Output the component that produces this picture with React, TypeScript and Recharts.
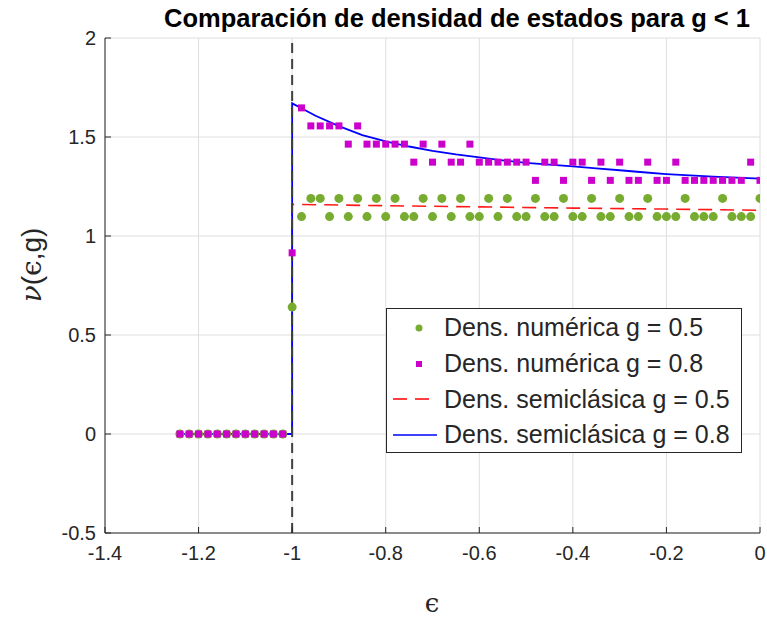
import React from 'react';
import { ComposedChart, Line, Scatter, XAxis, YAxis, CartesianGrid, ReferenceLine } from 'recharts';

// energy grid of the numerical histograms
const epsNum = [
  -1.24, -1.22, -1.2, -1.18, -1.16, -1.14, -1.12, -1.1, -1.08, -1.06, -1.04, -1.02,
  -1.0,
  -0.98, -0.96, -0.94, -0.92, -0.9, -0.88, -0.86, -0.84, -0.82, -0.8,
  -0.78, -0.76, -0.74, -0.72, -0.7, -0.68, -0.66, -0.64, -0.62, -0.6,
  -0.58, -0.56, -0.54, -0.52, -0.5, -0.48, -0.46, -0.44, -0.42, -0.4,
  -0.38, -0.36, -0.34, -0.32, -0.3, -0.28, -0.26, -0.24, -0.22, -0.2,
  -0.18, -0.16, -0.14, -0.12, -0.1, -0.08, -0.06, -0.04, -0.02, 0,
];

// Dens. numérica g = 0.5
const densG05 = [
  0, 0, 0, 0, 0, 0, 0, 0, 0, 0, 0, 0,
  0.641,
  1.098, 1.19, 1.19, 1.098, 1.19, 1.098, 1.19, 1.098, 1.19, 1.098,
  1.19, 1.098, 1.098, 1.19, 1.098, 1.19, 1.098, 1.19, 1.098, 1.098,
  1.19, 1.098, 1.19, 1.098, 1.098, 1.19, 1.098, 1.098, 1.19, 1.098,
  1.098, 1.19, 1.098, 1.098, 1.19, 1.098, 1.098, 1.19, 1.098, 1.098,
  1.098, 1.19, 1.098, 1.098, 1.098, 1.19, 1.098, 1.098, 1.098, 1.19,
];

// Dens. numérica g = 0.8
const densG08 = [
  0, 0, 0, 0, 0, 0, 0, 0, 0, 0, 0, 0,
  0.915,
  1.647, 1.556, 1.556, 1.556, 1.556, 1.464, 1.556, 1.464, 1.464, 1.464,
  1.464, 1.464, 1.373, 1.464, 1.373, 1.464, 1.373, 1.373, 1.464, 1.373,
  1.373, 1.373, 1.373, 1.373, 1.373, 1.281, 1.373, 1.373, 1.281, 1.373,
  1.373, 1.281, 1.373, 1.281, 1.373, 1.281, 1.281, 1.373, 1.281, 1.281,
  1.373, 1.281, 1.281, 1.281, 1.281, 1.281, 1.281, 1.281, 1.373, 1.281,
];

// Dens. semiclásica g = 0.8
const epsSemiG08 = [-1.24, -1.0, -1.0, -0.98, -0.95, -0.9, -0.85, -0.8, -0.75, -0.7, -0.65, -0.6, -0.55, -0.5, -0.45, -0.4, -0.35, -0.3, -0.25, -0.2, -0.15, -0.1, -0.05, 0];
const semiG08 = [0, 0, 1.67, 1.645, 1.607, 1.555, 1.51, 1.478, 1.452, 1.43, 1.412, 1.397, 1.382, 1.369, 1.36, 1.352, 1.342, 1.332, 1.322, 1.313, 1.306, 1.3, 1.295, 1.29];

// Dens. semiclásica g = 0.5
const epsSemiG05 = [-1.24, -1.0, -1.0, -0.8, -0.6, -0.4, -0.2, 0];
const semiG05 = [0, 0, 1.16, 1.153, 1.147, 1.141, 1.136, 1.13];

const xTicks = [-1.4, -1.2, -1, -0.8, -0.6, -0.4, -0.2, 0];
const yTicks = [-0.5, 0, 0.5, 1, 1.5, 2];

const FONT = '"Liberation Sans", Arial, Helvetica, sans-serif';
const SERIF = '"DejaVu Serif", "Liberation Serif", serif';
const INK = '#262626';
const GREEN = '#77AC30';
const MAGENTA = '#CC00CC';

const numG05 = epsNum.map((x, i) => ({ x, y: densG05[i] }));
const numG08 = epsNum.map((x, i) => ({ x, y: densG08[i] }));
const lineG08 = epsSemiG08.map((x, i) => ({ x, y: semiG08[i] }));
const lineG05 = epsSemiG05.map((x, i) => ({ x, y: semiG05[i] }));

const XTick = ({ x, y, payload }: any) => (
  <g>
    <line x1={x} y1={y} x2={x} y2={y - 6} stroke={INK} strokeWidth={1} />
    <text x={x} y={y + 27} textAnchor="middle" fontSize={20} fill={INK} fontFamily={FONT}>
      {String(payload.value)}
    </text>
  </g>
);

const YTick = ({ x, y, payload }: any) => (
  <g>
    <line x1={x} y1={y} x2={x + 6} y2={y} stroke={INK} strokeWidth={1} />
    <text x={x - 9} y={y + 7} textAnchor="end" fontSize={20} fill={INK} fontFamily={FONT}>
      {String(payload.value)}
    </text>
  </g>
);

const GreenDot = (p: any) => <circle cx={p.cx} cy={p.cy} r={4.5} fill={GREEN} />;
const MagSquare = (p: any) => <rect x={p.cx - 3.5} y={p.cy - 3.5} width={7} height={7} fill={MAGENTA} />;

const legendRows = [
  { label: 'Dens. numérica g = 0.5', kind: 'dot' },
  { label: 'Dens. numérica g = 0.8', kind: 'square' },
  { label: 'Dens. semiclásica g = 0.5', kind: 'dash' },
  { label: 'Dens. semiclásica g = 0.8', kind: 'line' },
];

const LegendIcon = ({ kind }: { kind: string }) => (
  <svg width={48} height={20} style={{ display: 'block' }}>
    {kind === 'dot' && <circle cx={30} cy={10} r={3.5} fill={GREEN} />}
    {kind === 'square' && <rect x={27} y={7} width={6} height={6} fill={MAGENTA} />}
    {kind === 'dash' && <line x1={4} x2={48} y1={10} y2={10} stroke="#FF0000" strokeWidth={1.5} strokeDasharray="14 8" />}
    {kind === 'line' && <line x1={4} x2={48} y1={10} y2={10} stroke="#0000FF" strokeWidth={1.5} />}
  </svg>
);

export default function App() {
  return (
    <div style={{ position: 'absolute', left: 0, top: 0, width: 767, height: 617, background: '#fff' }}>
      <ComposedChart width={767} height={617} margin={{ top: 38, right: 7, bottom: 54, left: 45 }}>
        <CartesianGrid stroke="#dedede" strokeWidth={1} />
        <XAxis
          type="number"
          dataKey="x"
          domain={[-1.4, 0]}
          ticks={xTicks}
          interval={0}
          allowDataOverflow
          height={30}
          tickSize={0}
          tickMargin={0}
          tickLine={false}
          axisLine={{ stroke: INK }}
          tick={<XTick />}
        />
        <YAxis
          type="number"
          dataKey="y"
          domain={[-0.5, 2]}
          ticks={yTicks}
          interval={0}
          allowDataOverflow
          width={60}
          tickSize={0}
          tickMargin={0}
          tickLine={false}
          axisLine={{ stroke: INK }}
          tick={<YTick />}
        />
        <Scatter data={numG05} dataKey="y" shape={<GreenDot />} isAnimationActive={false} />
        <Scatter data={numG08} dataKey="y" shape={<MagSquare />} isAnimationActive={false} />
        <Line data={lineG05} dataKey="y" type="linear" stroke="#FF1A1A" strokeWidth={1.6} strokeDasharray="14 8" dot={false} activeDot={false} isAnimationActive={false} />
        <Line data={lineG08} dataKey="y" type="linear" stroke="#0000FF" strokeWidth={1.8} dot={false} activeDot={false} isAnimationActive={false} />
        <ReferenceLine x={-1} stroke="#404040" strokeWidth={2} strokeDasharray="10 6" />
      </ComposedChart>

      <svg width={767} height={617} style={{ position: 'absolute', left: 0, top: 0, pointerEvents: 'none' }}>
        <text x={457} y={27} textAnchor="middle" fontSize={25.5} fontWeight="bold" fill="#000" fontFamily={FONT}>
          Comparación de densidad de estados para g &lt; 1
        </text>
        <text x={432} y={612} textAnchor="middle" fontSize={26} fill={INK} fontFamily={SERIF}>ϵ</text>
        <text transform="translate(41,265) rotate(-90)" textAnchor="middle" fontSize={28} fill={INK}>
          <tspan fontFamily={SERIF} fontStyle="italic">ν</tspan>
          <tspan fontFamily={FONT}>(</tspan>
          <tspan fontFamily={SERIF}>ϵ</tspan>
          <tspan fontFamily={FONT}>,g)</tspan>
        </text>
      </svg>

      <div
        style={{
          position: 'absolute', left: 386, top: 308, width: 354, height: 142,
          border: `1px solid ${INK}`, background: '#fff', boxSizing: 'content-box',
          fontFamily: FONT, fontSize: 25, color: INK, paddingTop: 1,
        }}
      >
        {legendRows.map((r) => (
          <div key={r.label} style={{ display: 'flex', alignItems: 'center', height: 35.7 }}>
            <div style={{ width: 55, paddingLeft: 2 }}><LegendIcon kind={r.kind} /></div>
            <span style={{ whiteSpace: 'nowrap' }}>{r.label}</span>
          </div>
        ))}
      </div>
    </div>
  );
}
